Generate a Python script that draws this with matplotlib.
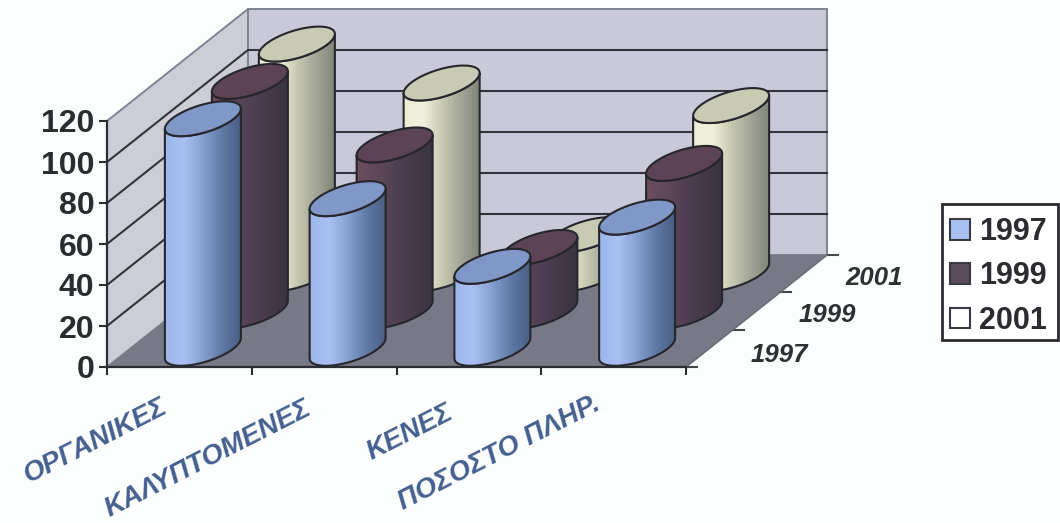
import numpy as np
import matplotlib
matplotlib.use("Agg")
import matplotlib.pyplot as plt
from matplotlib.colors import LinearSegmentedColormap
from matplotlib.patches import Patch, Polygon, PathPatch, Rectangle
from matplotlib.path import Path

# Chart data
categories = ["ΟΡΓΑΝΙΚΕΣ", "ΚΑΛΥΠΤΟΜΕΝΕΣ", "ΚΕΝΕΣ", "ΠΟΣΟΣΤΟ ΠΛΗΡ."]
years = ["1997", "1999", "2001"]
values_1997 = [112, 73, 40, 64]
values_1999 = [112, 81, 31, 72]
values_2001 = [112, 93, 19, 82]
yticks = [0, 20, 40, 60, 80, 100, 120]

# Oblique projection: one unit of depth expressed in axis units
DEPTH_X = 141 / 144.75
DEPTH_Y = 112 / 2.05
RADIUS_X = 0.214
RADIUS_D = 0.156

plt.rcParams["font.family"] = ["Liberation Sans", "DejaVu Sans"]
BG = "#fcfdfd"
fig = plt.figure(figsize=(10.6, 5.23), dpi=100, facecolor=BG)
ax = fig.add_axes([107 / 1060, 1 - 367 / 523, 579 / 1060, 246 / 523])
ax.patch.set_visible(False)


def project(x, v, d):
    return x + d * DEPTH_X, v + d * DEPTH_Y


def quad(points, **kw):
    ax.add_patch(Polygon([project(*p) for p in points], closed=True, clip_on=False, **kw))


# Walls and floor
quad([(0, 0, 1), (4, 0, 1), (4, 120, 1), (0, 120, 1)], fc="#c9c9da", ec="#7d8590", lw=1.4, zorder=1)
quad([(0, 0, 0), (0, 0, 1), (0, 120, 1), (0, 120, 0)], fc="#cdcdd8", ec="#7d8590", lw=1.4, zorder=1)
quad([(0, 0, 0), (4, 0, 0), (4, 0, 1), (0, 0, 1)], fc="#777a86", ec="none", zorder=2)

# Gridlines along the side wall and the back wall
for v in yticks[1:-1]:
    xs, ys = zip(project(0, v, 0), project(0, v, 1), project(4, v, 1))
    ax.plot(xs, ys, color="#33343a", lw=1.5, zorder=3, clip_on=False)

# Depth axis ticks
for k in range(4):
    x0, y0 = project(4, 0, k / 3)
    ax.plot([x0, x0 + 0.075], [y0, y0], color="#44464c", lw=1.5, zorder=3, clip_on=False)
xs, ys = zip(project(4, 0, 0), project(4, 0, 1))
ax.plot(xs, ys, color="#6a6d76", lw=1.2, zorder=3, clip_on=False)

PALETTE = {
    "1997": (["#9db7ea", "#a8c0f2", "#86a0d0", "#5f7aa6", "#4a5f84"], "#7f98c8"),
    "1999": (["#6c4e5e", "#62495a", "#514054", "#453a4a", "#3a3440"], "#5c4456"),
    "2001": (["#eeeed8", "#f0f0dc", "#c8c9b2", "#a3a697", "#7f8578"], "#c9cab4"),
}


def ellipse_points(cx, cy, t):
    return (cx + RADIUS_X * np.cos(t) + RADIUS_D * DEPTH_X * np.sin(t),
            cy + RADIUS_D * DEPTH_Y * np.sin(t))


def cylinder(i, depth, value, year, z):
    stops, top_colour = PALETTE[year]
    cx, cy = project(i + 0.5, 0, depth)
    t0 = np.arctan2(RADIUS_D * DEPTH_X, RADIUS_X)
    half = np.hypot(RADIUS_X, RADIUS_D * DEPTH_X)

    # Side surface: lower arc of the base, then lower arc of the top, reversed
    t = np.linspace(t0 + np.pi, t0 + 2 * np.pi, 80)
    bx, by = ellipse_points(cx, cy, t)
    tx, ty = ellipse_points(cx, cy + value, t)
    body = np.column_stack([np.r_[bx, tx[::-1]], np.r_[by, ty[::-1]]])
    body = np.vstack([body, body[0]])
    body_path = Path(body)

    cmap = LinearSegmentedColormap.from_list(year, stops)
    im = ax.imshow(np.linspace(0, 1, 128)[None, :], cmap=cmap, aspect="auto",
                   extent=(cx - half, cx + half, cy - 25, cy + value + 25),
                   zorder=z, interpolation="bilinear")
    im.set_clip_box(fig.bbox)
    im.set_clip_path(body_path, ax.transData)
    ax.add_patch(PathPatch(body_path, fc="none", ec="#26262c", lw=1.5, zorder=z + 0.1, clip_on=False))

    # Top face
    t = np.linspace(0, 2 * np.pi, 120)
    ex, ey = ellipse_points(cx, cy + value, t)
    ax.add_patch(Polygon(np.column_stack([ex, ey]), closed=True, fc=top_colour, ec="#26262c",
                         lw=1.5, zorder=z + 0.2, clip_on=False))


series = [("2001", values_2001, 5 / 6), ("1999", values_1999, 3 / 6), ("1997", values_1997, 1 / 6)]
for s, (year, vals, depth) in enumerate(series):
    for i, v in enumerate(vals):
        cylinder(i, depth, v, year, 5 + s)

# Axes and ticks
ax.set_xlim(0, 4)
ax.set_ylim(0, 120)
for side in ("top", "right"):
    ax.spines[side].set_visible(False)
for side in ("left", "bottom"):
    ax.spines[side].set_color("#2c2d33")
    ax.spines[side].set_linewidth(1.6)
    ax.spines[side].set_zorder(20)
ax.set_xticks(range(5))
ax.set_xticklabels([])
ax.set_yticks(yticks)
ax.tick_params(axis="x", length=6, width=1.5, color="#2c2d33")
ax.tick_params(axis="y", length=6, width=1.5, color="#2c2d33", pad=3, labelsize=23,
               labelcolor="#2b2c30")
for lab in ax.get_yticklabels():
    lab.set_fontweight("bold")

# Category labels, rotated and anchored at their upper right end
offsets = [(-14, -38), (-15, -40), (-17, -44), (-15, -36)]
for i, (name, off) in enumerate(zip(categories, offsets)):
    ax.annotate(name, (i + 0.5, 0), xytext=off, textcoords="offset pixels", rotation=27,
                rotation_mode="anchor", ha="right", va="center", fontsize=20, style="italic",
                fontweight="bold", color="#44608f", annotation_clip=False)

# Depth axis labels
depth_offsets = [(41, -7), (42, -4), (42, -4)]
for k, (year, off) in enumerate(zip(years, depth_offsets)):
    x0, y0 = project(4, 0, (k + 0.5) / 3)
    ax.annotate(year, (x0, y0), xytext=off, textcoords="offset pixels", ha="left", va="center",
                fontsize=18.5, style="italic", fontweight="bold", color="#2f3034",
                annotation_clip=False)

# Legend entries sit inside a separately drawn frame
fig.add_artist(Rectangle((942 / 1060, 1 - 340 / 523), 116 / 1060, 136 / 523,
                         transform=fig.transFigure, fc="white", ec="#2a2a30", lw=2, zorder=4))
handles = [Patch(fc="#a9c0f2", ec="#3a3a44", lw=1.5),
           Patch(fc="#5a4c5a", ec="#3a3a44", lw=1.5),
           Patch(fc="#ffffff", ec="#3a3a44", lw=1.5)]
leg = fig.legend(handles, years, loc="upper left",
                 bbox_to_anchor=(942 / 1060, 1 - 209 / 523), borderaxespad=0,
                 frameon=False, handlelength=0.66, handleheight=0.66, handletextpad=0.3,
                 labelspacing=0.47, borderpad=0.26,
                 prop={"size": 22, "weight": "bold"})
leg.set_zorder(5)
for txt in leg.get_texts():
    txt.set_color("#2b2c30")

fig.savefig("out.png", dpi=100, facecolor=BG)
